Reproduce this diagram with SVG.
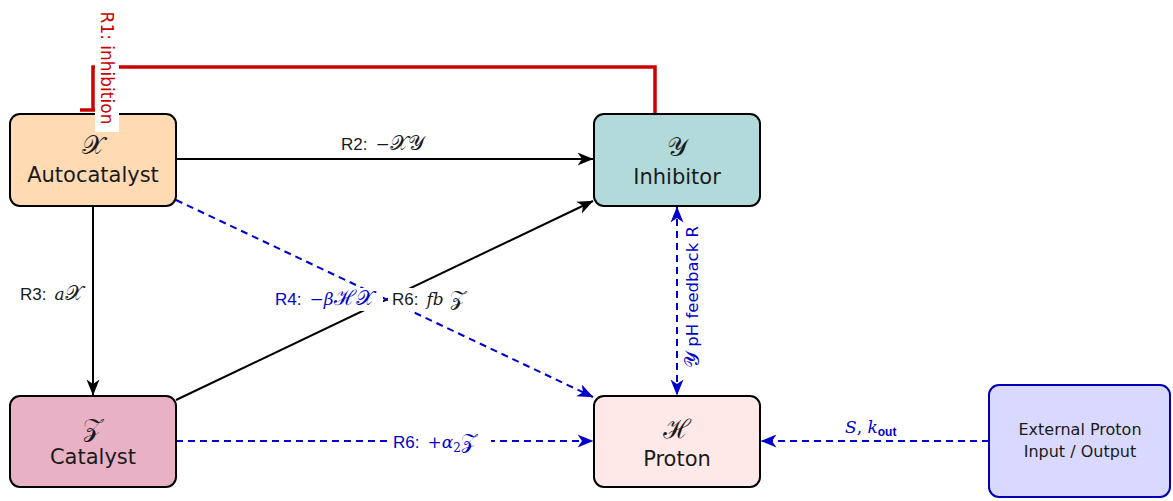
<svg xmlns="http://www.w3.org/2000/svg" width="1173" height="501" viewBox="0 0 1173 501">
<style>
.node{stroke:#000;stroke-width:2}
.nt{font-family:"DejaVu Sans","Noto Sans",sans-serif;font-size:21px;fill:#1a1a1a;text-anchor:middle}
.sym{font-family:"DejaVu Serif","Liberation Serif","Noto Sans",serif;font-size:26px;fill:#1a1a1a;text-anchor:middle}
.el{font-family:"Liberation Sans",Arial,sans-serif;font-size:17px}
.m{font-family:"DejaVu Serif","Liberation Serif",serif;font-style:italic}
.sc{font-family:"DejaVu Serif","Liberation Serif",serif;font-size:21px}
.mu{font-family:"DejaVu Serif","Liberation Serif",serif}
.blk{stroke:#000;stroke-width:2;fill:none}
.blu{stroke:#0000CC;stroke-width:2;fill:none;stroke-dasharray:7 5}
.bg{fill:#fff}
</style>
<defs>
<marker id="ak" viewBox="0 0 16 14" refX="15.5" refY="7" markerWidth="16" markerHeight="14" markerUnits="userSpaceOnUse" orient="auto">
<path d="M16,7 L0,0.5 L4.5,7 L0,13.5 Z" fill="#000"/>
</marker>
<marker id="ab" viewBox="0 0 16 14" refX="15.5" refY="7" markerWidth="16" markerHeight="14" markerUnits="userSpaceOnUse" orient="auto-start-reverse">
<path d="M16,7 L0,0.5 L4.5,7 L0,13.5 Z" fill="#0000CC"/>
</marker>
</defs>
<g id="connectors">
<path id="r1" d="M655,114 V67 H93 V110" stroke="#CC0000" stroke-width="3.5" fill="none"/>
<path id="r1bar" d="M80,110 H106" stroke="#CC0000" stroke-width="3.5" fill="none"/>
<line class="blk" x1="176" y1="159" x2="593" y2="159" marker-end="url(#ak)"/>
<line class="blk" x1="93" y1="206" x2="93" y2="395" marker-end="url(#ak)"/>
<line class="blk" x1="176" y1="400" x2="593" y2="201" marker-end="url(#ak)"/>
<line class="blu" x1="176" y1="200" x2="593" y2="397" marker-end="url(#ab)"/>
<line class="blu" x1="677" y1="207" x2="677" y2="395" marker-start="url(#ab)" marker-end="url(#ab)"/>
<line class="blu" x1="176" y1="441" x2="593" y2="441" marker-end="url(#ab)"/>
<line class="blu" x1="989" y1="441" x2="761" y2="441" marker-end="url(#ab)"/>
</g>
<g id="nodeX">
<rect class="node" x="10" y="114" width="166" height="92" rx="10" fill="#FFDAB3"/>
<text class="sym" x="93" y="154">𝒳</text>
<text class="nt" x="93" y="182">Autocatalyst</text>
</g>
<g id="nodeY">
<rect class="node" x="594" y="114" width="166" height="92" rx="10" fill="#B3DADA"/>
<text class="sym" x="677" y="156">𝒴</text>
<text class="nt" x="677" y="184">Inhibitor</text>
</g>
<g id="nodeZ">
<rect class="node" x="10" y="396" width="166" height="91" rx="10" fill="#E9B1C5"/>
<text class="sym" x="93" y="436">𝒵</text>
<text class="nt" x="93" y="464">Catalyst</text>
</g>
<g id="nodeH">
<rect class="node" x="594" y="396" width="166" height="91" rx="10" fill="#FFE8E8"/>
<text class="sym" x="677" y="438">ℋ</text>
<text class="nt" x="677" y="466">Proton</text>
</g>
<g id="nodeExt">
<rect x="989" y="385" width="181" height="112" rx="10" fill="#D9D9FF" stroke="#0000B3" stroke-width="2"/>
<text class="nt" x="1080" y="435" style="font-size:16px">External Proton</text>
<text class="nt" x="1080" y="457" style="font-size:16px">Input / Output</text>
</g>
<g id="labels">
<rect class="bg" x="95" y="0" width="24" height="132"/>
<text transform="translate(107,68) rotate(90)" text-anchor="middle" dominant-baseline="central" style="font-family:'DejaVu Sans',sans-serif;font-size:17px" fill="#CC0000">R1: inhibition</text>
<text class="el" x="341" y="150" fill="#1a1a1a">R2:<tspan class="mu" dx="8">−</tspan><tspan class="sc">𝒳𝒴</tspan></text>
<text class="el" x="20" y="300" fill="#1a1a1a">R3:<tspan class="m" dx="8">a</tspan><tspan class="sc">𝒳</tspan></text>
<rect class="bg" x="272" y="288" width="111" height="23"/>
<text class="el" x="275" y="305" fill="#0000CC">R4:<tspan class="mu" dx="8">−</tspan><tspan class="m">β</tspan><tspan class="sc">ℋ𝒳</tspan></text>
<rect class="bg" x="388" y="288" width="86" height="23"/>
<text class="el" x="392" y="305" fill="#1a1a1a">R6:<tspan class="m" dx="8">fb</tspan><tspan class="sc"> 𝒵</tspan></text>
<rect class="bg" x="387" y="430" width="104" height="22"/>
<text class="el" x="393" y="448" fill="#0000CC">R6:<tspan class="mu" dx="8">+</tspan><tspan class="m">α</tspan><tspan class="mu" font-size="12" dy="4">2</tspan><tspan class="sc" dy="-4">𝒵</tspan></text>
<text class="el" x="845" y="433" fill="#0000CC"><tspan class="m">S</tspan><tspan class="mu">, </tspan><tspan class="m">k</tspan><tspan font-weight="bold" font-size="12" dy="3">out</tspan></text>
<text transform="translate(692,297) rotate(-90)" text-anchor="middle" dominant-baseline="central" style="font-family:'DejaVu Sans',sans-serif;font-size:16.5px" fill="#0000CC"><tspan class="sc">𝒴</tspan> pH feedback R</text>
</g>
</svg>
